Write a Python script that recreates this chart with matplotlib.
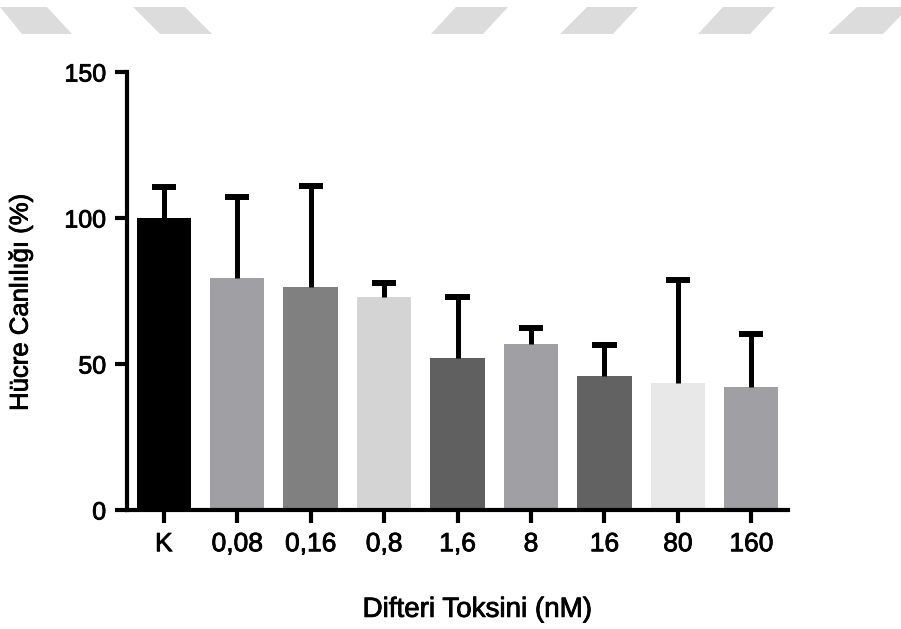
import matplotlib
matplotlib.use('Agg')
import matplotlib.pyplot as plt
import matplotlib.patheffects as pe
from matplotlib.patches import Polygon
import numpy as np

# Cell viability per diphtheria toxin dose (mean and upper SD)
doses = ['K', '0,08', '0,16', '0,8', '1,6', '8', '16', '80', '160']
viability = np.array([100, 79.5, 76.5, 73, 52, 57, 46, 43.6, 42.2])
sd = np.array([10.5, 27.8, 34.5, 4.8, 21, 5.2, 10.4, 35.2, 18])
bar_colors = ['#000000', '#a0a0a4', '#808080', '#d4d4d4', '#606060',
              '#a0a0a4', '#626262', '#e8e8e8', '#a0a0a4']

plt.rcParams['font.family'] = ['Liberation Sans', 'DejaVu Sans']
heavy = [pe.withStroke(linewidth=0.6, foreground='black')]

fig = plt.figure(figsize=(9.01, 6.29), dpi=100)

# grey slanted stripes along the top edge
W, H = 901, 629
stripes = [
    [(0, 7), (47, 7), (72, 34), (22, 34)],
    [(133, 7), (185, 7), (212, 34), (160, 34)],
    [(456, 7), (508, 7), (483, 34), (431, 34)],
    [(587, 7), (638, 7), (613, 34), (560, 34)],
    [(723, 7), (775, 7), (750, 34), (698, 34)],
    [(857, 7), (909, 7), (883, 34), (828, 34)],
]
for pts in stripes:
    fig.patches.append(Polygon([(x / W, 1 - y / H) for x, y in pts],
                               closed=True, transform=fig.transFigure,
                               facecolor='#dcdcdc', edgecolor='none'))

ax = fig.add_axes([0.141, 0.1892, 0.7336, 0.6963])
x = np.arange(len(doses))
ax.bar(x, viability, width=0.74, color=bar_colors, zorder=2)

# upper-only error bars
top = viability + sd
ax.vlines(x, viability, top, color='black', linewidth=3.6, zorder=3)
ax.hlines(top, x - 0.165, x + 0.165, color='black', linewidth=4.3, zorder=3)

ax.set_xlim(-0.5, 8.5)
ax.set_ylim(0, 150)
ax.set_yticks([0, 50, 100, 150])
ax.set_xticks(x)
ax.set_xticklabels(doses)
ax.tick_params(axis='both', width=3, length=9, labelsize=18, direction='out')
ax.tick_params(axis='x', pad=7, labelsize=19)
ax.tick_params(axis='y', pad=6)
for lbl in ax.get_xticklabels() + ax.get_yticklabels():
    lbl.set_path_effects(heavy)
for side in ['top', 'right']:
    ax.spines[side].set_visible(False)
for side in ['left', 'bottom']:
    ax.spines[side].set_linewidth(3)
ax.spines['bottom'].set_capstyle('projecting')

ax.set_xlabel('Difteri Toksini (nM)', fontsize=20, va='center', path_effects=heavy)
ax.xaxis.set_label_coords(0.530, -0.228)
ax.set_ylabel('Hücre Canlılığı (%)', fontsize=18.5, va='center', path_effects=heavy)
ax.yaxis.set_label_coords(-0.161, 0.475)

fig.savefig('out.png', dpi=100)
